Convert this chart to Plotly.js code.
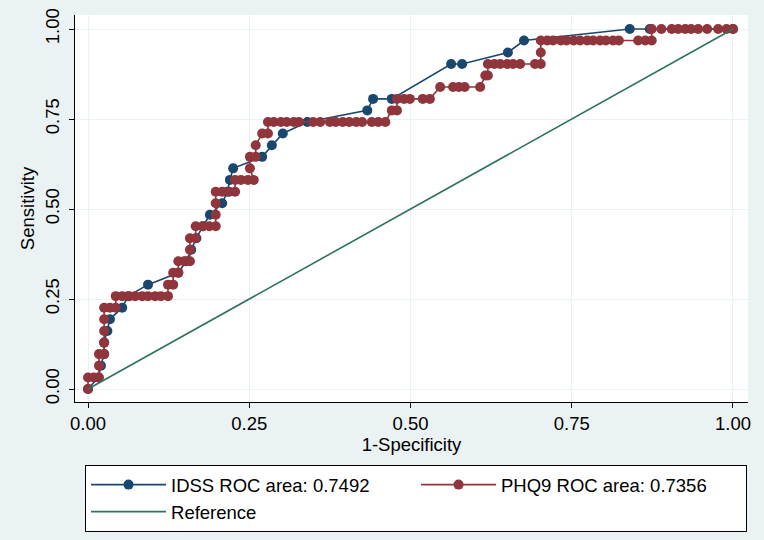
<!DOCTYPE html>
<html>
<head>
<meta charset="utf-8">
<script src="https://cdn.plot.ly/plotly-3.0.1.min.js"></script>
<style>html,body{margin:0;padding:0;background:#eaf2f3;}</style>
</head>
<body>
<div id="chart" style="width:764px;height:540px;"></div>
<script>
// IDSS ROC curve (1-specificity, sensitivity)
const idssFpr  = [0.000, 0.016, 0.020, 0.025, 0.025, 0.030, 0.034, 0.053, 0.062, 0.093, 0.140, 0.152, 0.160, 0.168, 0.178, 0.189, 0.208, 0.216, 0.220, 0.225, 0.270, 0.285, 0.302, 0.340, 0.433, 0.442, 0.471, 0.563, 0.580, 0.651, 0.676, 0.840, 0.871, 1.000];
const idssSens = [0.000, 0.032, 0.065, 0.097, 0.129, 0.161, 0.194, 0.226, 0.258, 0.290, 0.323, 0.355, 0.387, 0.419, 0.452, 0.484, 0.516, 0.548, 0.581, 0.613, 0.645, 0.677, 0.710, 0.742, 0.774, 0.806, 0.806, 0.903, 0.903, 0.935, 0.968, 1.000, 1.000, 1.000];

// PHQ9 ROC curve
const phqFpr = [
  0.000, 0.000, 0.009, 0.017, 0.017, 0.017, 0.025, 0.025, 0.025, 0.025, 0.025, 0.034, 0.043,
  0.043, 0.053, 0.064, 0.073, 0.084, 0.093, 0.104, 0.113, 0.124,
  0.124, 0.132, 0.132, 0.140, 0.140, 0.149, 0.158, 0.158, 0.158, 0.167,
  0.167, 0.178, 0.188, 0.198, 0.198, 0.198,
  0.198, 0.208, 0.219, 0.228, 0.228, 0.237, 0.248, 0.257, 0.251, 0.251, 0.260, 0.260,
  0.270, 0.279,
  0.279, 0.288, 0.299, 0.308, 0.319, 0.327, 0.349, 0.360, 0.375, 0.384, 0.395, 0.405, 0.416, 0.425, 0.440, 0.450, 0.461,
  0.471, 0.479, 0.479, 0.490, 0.499, 0.519, 0.530,
  0.546, 0.566, 0.575, 0.584, 0.608, 0.616, 0.620,
  0.620, 0.630, 0.639, 0.650, 0.659, 0.670, 0.693, 0.702, 0.702,
  0.702, 0.712, 0.721, 0.733, 0.742, 0.753, 0.763, 0.774, 0.783, 0.794, 0.803, 0.814, 0.823, 0.853, 0.864, 0.874,
  0.874, 0.889, 0.905, 0.915, 0.926, 0.935, 0.946, 0.960, 0.977, 0.990, 1.000
];
const phqSens = [
  0.000, 0.032, 0.032, 0.032, 0.065, 0.097, 0.097, 0.129, 0.161, 0.194, 0.226, 0.226, 0.226,
  0.258, 0.258, 0.258, 0.258, 0.258, 0.258, 0.258, 0.258, 0.258,
  0.290, 0.290, 0.323, 0.323, 0.355, 0.355, 0.355, 0.387, 0.419, 0.419,
  0.452, 0.452, 0.452, 0.452, 0.484, 0.516,
  0.548, 0.548, 0.548, 0.548, 0.581, 0.581, 0.581, 0.581, 0.613, 0.645, 0.645, 0.677,
  0.710, 0.710,
  0.742, 0.742, 0.742, 0.742, 0.742, 0.742, 0.742, 0.742, 0.742, 0.742, 0.742, 0.742, 0.742, 0.742, 0.742, 0.742, 0.742,
  0.774, 0.774, 0.806, 0.806, 0.806, 0.806, 0.806,
  0.839, 0.839, 0.839, 0.839, 0.839, 0.871, 0.871,
  0.903, 0.903, 0.903, 0.903, 0.903, 0.903, 0.903, 0.903, 0.935,
  0.968, 0.968, 0.968, 0.968, 0.968, 0.968, 0.968, 0.968, 0.968, 0.968, 0.968, 0.968, 0.968, 0.968, 0.968, 0.968,
  1.000, 1.000, 1.000, 1.000, 1.000, 1.000, 1.000, 1.000, 1.000, 1.000, 1.000
];

const refX = [0, 1];
const refY = [0, 1];

const tickVals = [0, 0.25, 0.5, 0.75, 1];
const tickText = ["0.00", "0.25", "0.50", "0.75", "1.00"];

const labels = ["IDSS ROC area: 0.7492", "PHQ9 ROC area: 0.7356", "Reference"];
const colors = ["#1a476f", "#90353b", "#2f7262"];

const font = "Liberation Sans, Arial, sans-serif";
const fs = 18.5;

const traces = [
  {x: idssFpr, y: idssSens, name: labels[0], mode: "lines+markers", type: "scatter",
   line: {color: colors[0], width: 1.6},
   marker: {color: colors[0], size: 10}},
  {x: phqFpr, y: phqSens, name: labels[1], mode: "lines+markers", type: "scatter",
   line: {color: colors[1], width: 1.6},
   marker: {color: colors[1], size: 10}},
  {x: refX, y: refY, name: labels[2], mode: "lines", type: "scatter",
   line: {color: colors[2], width: 1.6}}
];

const layout = {
  width: 764, height: 540,
  paper_bgcolor: "#eaf2f3",
  plot_bgcolor: "#ffffff",
  margin: {l: 75, r: 16, t: 15, b: 138, autoexpand: false},
  font: {family: font, size: fs, color: "#000"},
  showlegend: true,
  xaxis: {
    range: [-0.0202, 1.0233],
    tickvals: tickVals, ticktext: tickText,
    ticks: "outside", ticklen: 5, tickcolor: "#000", tickwidth: 1,
    showline: true, linecolor: "#000", linewidth: 1,
    showgrid: true, gridcolor: "#eaf2f3", gridwidth: 1,
    zeroline: false,
    tickfont: {family: font, size: fs},
    title: {text: "1-Specificity", font: {family: font, size: fs}, standoff: 0}
  },
  yaxis: {
    range: [-0.036, 1.039],
    tickvals: tickVals, ticktext: tickText,
    tickangle: -90,
    ticks: "outside", ticklen: 5, tickcolor: "#000", tickwidth: 1,
    ticklabelstandoff: 3,
    showline: true, linecolor: "#000", linewidth: 1,
    showgrid: true, gridcolor: "#eaf2f3", gridwidth: 1,
    zeroline: false,
    tickfont: {family: font, size: fs},
    title: {text: "Sensitivity", font: {family: font, size: fs}, standoff: 2}
  },
  legend: {
    orientation: "h",
    x: 0.0149, xanchor: "left",
    y: -0.163, yanchor: "top",
    bgcolor: "#ffffff",
    bordercolor: "#000", borderwidth: 1,
    font: {family: font, size: fs},
    entrywidth: 240, entrywidthmode: "pixels",
    traceorder: "normal",
    itemwidth: 75
  }
};

Plotly.newPlot("chart", traces, layout, {displayModeBar: false, staticPlot: true});
</script>
</body>
</html>
